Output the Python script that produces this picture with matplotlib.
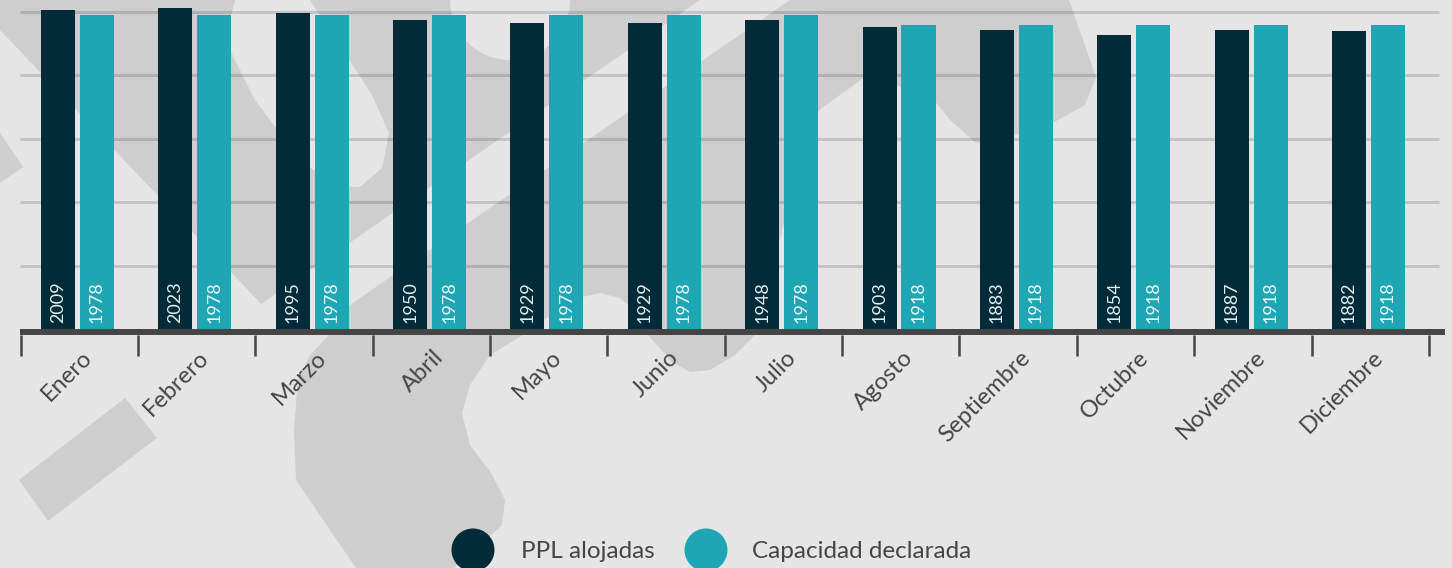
import matplotlib.pyplot as plt
import numpy as np
from matplotlib.patches import Ellipse, Polygon

W, H = 1452, 568

months = ['Enero', 'Febrero', 'Marzo', 'Abril', 'Mayo', 'Junio', 'Julio',
          'Agosto', 'Septiembre', 'Octubre', 'Noviembre', 'Diciembre']
ppl_alojadas = [2009, 2023, 1995, 1950, 1929, 1929, 1948, 1903, 1883, 1854, 1887, 1882]
capacidad = [1978, 1978, 1978, 1978, 1978, 1978, 1978, 1918, 1918, 1918, 1918, 1918]
grid_values = [400, 800, 1200, 1600, 2000]
legend_labels = ['PPL alojadas', 'Capacidad declarada']

DARK = '#022b3a'
TEAL = '#1fa6b4'
BG = '#e5e5e5'
SHAPE = '#cecece'
TXT = '#454545'
FONT = 'Lato'

# background watermark shapes, in pixel coords (y down)
dark_main = [(0, 0), (1069, 0), (1096, 77), (1085, 105), (1040, 130), (976, 143),
             (950, 120), (930, 95), (865, 77), (819, 110), (790, 200), (755, 335),
             (735, 355), (710, 370), (690, 372), (672, 362), (648, 335), (640, 315),
             (620, 298), (600, 293), (578, 298), (555, 312), (523, 335), (490, 355),
             (470, 385), (462, 413), (470, 445), (491, 473), (505, 500), (502, 525),
             (480, 545), (454, 568), (356, 568), (296, 480), (294, 430), (298, 380),
             (310, 355), (329, 335), (286, 330), (0, 30)]
light_band = [(700, 0), (790, 0), (311, 332), (221, 332)]
light_hook = [(235, 0), (310, 0), (372, 95), (389, 133), (382, 168), (360, 187),
              (335, 186), (300, 160), (255, 100), (225, 40)]
dark_bits = [[(0, 133), (23, 167), (0, 183)],
             [(125, 398), (157, 438), (48, 521), (19, 480)]]


def fpt(pts):
    return [(x / W, 1 - y / H) for x, y in pts]


def add_shape(fig, pts, color):
    fig.add_artist(Polygon(fpt(pts), closed=True, facecolor=color, edgecolor='none',
                           transform=fig.transFigure, zorder=-5))


fig = plt.figure(figsize=(W / 100, H / 100), dpi=100, facecolor=BG)

add_shape(fig, dark_main, SHAPE)
add_shape(fig, light_band, BG)
add_shape(fig, light_hook, BG)
fig.add_artist(Ellipse((510 / W, 1.0), 120 / W, 120 / H, facecolor=BG, edgecolor='none',
                       transform=fig.transFigure, zorder=-5))
for pts in dark_bits:
    add_shape(fig, pts, SHAPE)

# axes: baseline bottom at pixel 335, category i centred at pixel 77.5 + 117.36*i
step = 117.36
ax = fig.add_axes([20 / W, (H - 335) / H, 1425 / W, 335 / H])
ax.set_facecolor('none')
for s in ax.spines.values():
    s.set_visible(False)
x0, x1 = -(77.5 - 20) / step, (1445 - 77.5) / step
ax.set_xlim(x0, x1)
ax.set_ylim(-34.6, 2075)

x = np.arange(len(months))
bw = 0.29
off = 0.166
ax.hlines(grid_values, x0, (1439 - 77.5) / step, color='black', alpha=0.14, lw=2.2, zorder=1)
ax.bar(x - off, ppl_alojadas, width=bw, color=DARK, zorder=3)
ax.bar(x + off, capacidad, width=bw, color=TEAL, zorder=3)
ax.hlines(-15.7, x0, x1, color=TXT, lw=4.3, zorder=4)

for xi, v in zip(x - off, ppl_alojadas):
    ax.text(xi, 41, str(v), rotation=90, ha='center', va='bottom', fontsize=13,
            color='#e4eeee', family=FONT, zorder=5)
for xi, v in zip(x + off, capacidad):
    ax.text(xi, 41, str(v), rotation=90, ha='center', va='bottom', fontsize=13,
            color='#eef8f8', family=FONT, zorder=5)

ax.set_xticks(np.arange(len(months) + 1) - 0.485)
ax.set_xticklabels([])
ax.set_yticks([])
ax.tick_params(axis='x', length=15, width=1.8, color=TXT, direction='out')

for xi, m in zip(x, months):
    ax.text(xi + 0.03, -0.035, m, transform=ax.get_xaxis_transform(), rotation=45,
            rotation_mode='anchor', ha='right', va='top', fontsize=17, color=TXT,
            family=FONT)

# legend
for cx, tx, col, lab in [(473, 521, DARK, legend_labels[0]), (706, 752, TEAL, legend_labels[1])]:
    fig.add_artist(Ellipse((cx / W, 1 - 550 / H), 43 / W, 43 / H, facecolor=col,
                           edgecolor='none', transform=fig.transFigure, zorder=5))
    fig.text(tx / W, 1 - 551 / H, lab, ha='left', va='center', fontsize=17.5,
             color=TXT, family=FONT)

fig.savefig('out.png', dpi=100, facecolor=BG)
